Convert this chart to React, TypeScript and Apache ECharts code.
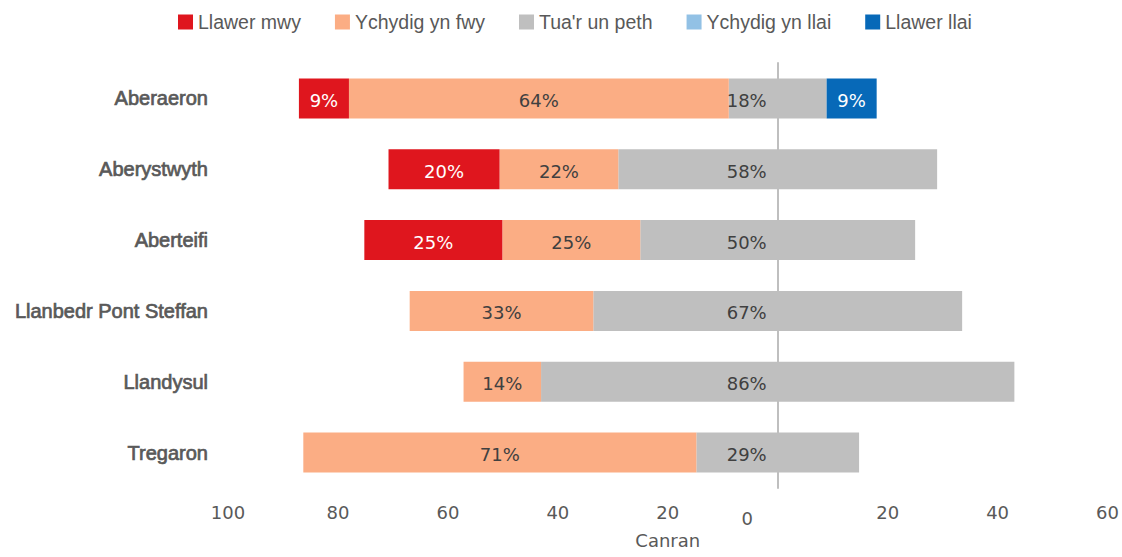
import React, { useEffect, useRef } from "react";
import * as echarts from "echarts";

const categories = ["Aberaeron", "Aberystwyth", "Aberteifi", "Llanbedr Pont Steffan", "Llandysul", "Tregaron"];
const seriesNames = ["Llawer mwy", "Ychydig yn fwy", "Tua'r un peth", "Ychydig yn llai", "Llawer llai"];
// bar lengths as drawn (percent units)
const llawerMwy = [9.1, 20.2, 25.1, 0, 0, 0];
const ychydigFwy = [69.1, 21.6, 25.1, 33.4, 14.1, 71.5];
const tuaRUnPeth = [17.8, 58, 50, 67.1, 86.1, 29.6];
const ychydigLlai = [0, 0, 0, 0, 0, 0];
const llawerLlai = [9.1, 0, 0, 0, 0, 0];
// printed labels
const labelMwy = [9, 20, 25, null, null, null];
const labelFwy = [64, 22, 25, 33, 14, 71];
const labelTua = [18, 58, 50, 67, 86, 29];
const labelLlai = [null, null, null, null, null, null];
const labelLlawerLlai = [9, null, null, null, null, null];

const colors = ["#DF161E", "#FBAD84", "#BFBFBF", "#92C1E5", "#0769B8"];
const NUM_FONT = "DejaVu Sans";
const TXT_FONT = "Liberation Sans, Arial, sans-serif";

function toData(arr: number[], sign: number, half = false) {
  return arr.map((v) => (v ? (half ? (sign * v) / 2 : sign * v) : null));
}

function labelFor(arr: (number | null)[], color: string, extra: any = {}) {
  return {
    show: true,
    position: "inside",
    color,
    fontFamily: NUM_FONT,
    fontSize: 18,
    offset: [0, 2],
    formatter: (p: any) => (arr[p.dataIndex] == null ? "" : arr[p.dataIndex] + "%"),
    ...extra,
  };
}

export default function App() {
  const ref = useRef<HTMLDivElement>(null);
  useEffect(() => {
    if (!ref.current) return;
    const chart = echarts.init(ref.current, null, { renderer: "svg" });
    const barCommon = { type: "bar", stack: "total", barWidth: 40, yAxisIndex: 0 };
    chart.setOption({
      animation: false,
      backgroundColor: "#ffffff",
      legend: {
        data: seriesNames,
        left: 173,
        top: 7,
        itemWidth: 15,
        itemHeight: 15,
        itemGap: 34,
        icon: "rect",
        textStyle: { color: "#595959", fontFamily: TXT_FONT, fontSize: 19.5 },
      },
      grid: { left: 228, right: 14, top: 63, bottom: 69 },
      xAxis: {
        type: "value",
        min: -100,
        max: 60,
        interval: 20,
        name: "Canran",
        nameLocation: "middle",
        nameGap: 42,
        nameTextStyle: { color: "#595959", fontFamily: NUM_FONT, fontSize: 18 },
        axisLine: { show: false },
        axisTick: { show: false },
        splitLine: { show: false },
        axisLabel: {
          color: "#595959",
          fontFamily: NUM_FONT,
          fontSize: 18,
          margin: 15,
          showMaxLabel: true,
          formatter: (v: number) => (v === 0 ? "{z|0}" : String(Math.abs(v))),
          rich: {
            z: { color: "#595959", fontFamily: NUM_FONT, fontSize: 18, padding: [0, 61, 0, 0], lineHeight: 30 },
          },
        },
      },
      yAxis: [
        {
          type: "category",
          data: categories,
          inverse: true,
          axisLine: { show: false, onZero: false },
          axisTick: { show: false },
          axisLabel: {
            color: "#595959",
            fontFamily: TXT_FONT,
            fontSize: 20,
            margin: 20,
            padding: [8, 0, 0, 0],
            textBorderColor: "#595959",
            textBorderWidth: 0.7,
          },
        },
        {
          type: "category",
          data: categories,
          inverse: true,
          axisLine: { show: true, onZero: true, lineStyle: { color: "#BFBFBF", width: 2 } },
          axisTick: { show: false },
          axisLabel: { show: false },
        },
      ],
      series: [
        {
          ...barCommon,
          name: seriesNames[2],
          itemStyle: { color: colors[2] },
          data: toData(tuaRUnPeth, -1, true),
          label: labelFor(labelTua, "#404040", { position: "insideRight", distance: 11 }),
        },
        {
          ...barCommon,
          name: seriesNames[1],
          itemStyle: { color: colors[1] },
          data: toData(ychydigFwy, -1),
          label: labelFor(labelFwy, "#404040"),
        },
        {
          ...barCommon,
          name: seriesNames[0],
          itemStyle: { color: colors[0] },
          data: toData(llawerMwy, -1),
          label: labelFor(labelMwy, "#ffffff"),
        },
        {
          ...barCommon,
          name: seriesNames[2],
          itemStyle: { color: colors[2] },
          data: toData(tuaRUnPeth, 1, true),
        },
        {
          ...barCommon,
          name: seriesNames[3],
          itemStyle: { color: colors[3] },
          data: toData(ychydigLlai, 1),
          label: labelFor(labelLlai, "#404040"),
        },
        {
          ...barCommon,
          name: seriesNames[4],
          itemStyle: { color: colors[4] },
          data: toData(llawerLlai, 1),
          label: labelFor(labelLlawerLlai, "#ffffff"),
        },
      ],
    });
    return () => chart.dispose();
  }, []);
  return <div ref={ref} style={{ position: "absolute", left: 0, top: 0, width: 1122, height: 557 }} />;
}
